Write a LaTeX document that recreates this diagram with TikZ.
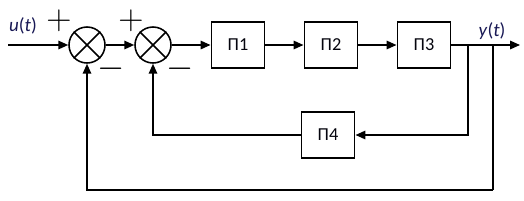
\documentclass[tikz,border=0pt]{standalone}
\usepackage{fontspec}
\setmainfont{Carlito}
\usepackage{xcolor}
\usetikzlibrary{arrows.meta, positioning}
\definecolor{labelblue}{RGB}{25,25,85}
\tikzstyle{wire} = [line width=1.1pt]
\tikzstyle{arrow} = [wire, -{Triangle[length=7pt, width=6pt]}]

\begin{document}
\begin{tikzpicture}[
        x=0.025cm, y=-0.025cm,
        node distance = 0.95cm,
        block/.style={draw, line width=1.4pt, minimum width=1.325cm, minimum height=1.15cm, font=\fontsize{13}{15}\selectfont, text=black!85!labelblue},
        summer/.style={draw, circle, line width=1.1pt, minimum size=0.9cm, inner sep=0pt},
        sign/.style={font=\fontsize{23}{23}\selectfont, inner sep=0pt},
        lbl/.style={font=\fontsize{13.5}{15}\selectfont, text=labelblue, inner sep=0pt},
    ]
        \useasboundingbox (0,0) rectangle (524,200);

        % summing junctions
        \node[summer] (sum1) at (87,45) {};
        \node[summer] (sum2) at (153,45) {};
        \foreach \s in {sum1, sum2} {
            \draw[wire] (\s.north east) -- (\s.south west);
            \draw[wire] (\s.north west) -- (\s.south east);
        }

        % forward path
        \node[block] (p1) at (238,45) {П1};
        \node[block, right=of p1] (p2) {П2};
        \node[block, right=of p2] (p3) {П3};
        \node[block] (p4) at (328,135) {П4};

        \coordinate (in) at (8,45);
        \coordinate (out) at (520,45);
        \coordinate (tap1) at (468,45);
        \coordinate (tap2) at (493,45);
        \coordinate (low) at (493,190);

        \draw[arrow] (in) -- (sum1.west);
        \draw[arrow] (sum1.east) -- (sum2.west);
        \draw[arrow] (sum2.east) -- (p1.west);
        \draw[arrow] (p1.east) -- (p2.west);
        \draw[arrow] (p2.east) -- (p3.west);
        \draw[arrow] (p3.east) -- (out);

        % feedback loops
        \draw[arrow] (tap1) |- (p4.east);
        \draw[arrow] (p4.west) -| (sum2.south);
        \draw[wire] (tap2) -- (low);
        \draw[arrow] (low) -| (sum1.south);

        % signs and signals
        \node[sign] (plus1) at (59,21) {$+$};
        \node[sign] (minus1) at (111,69) {$-$};
        \node[sign] (plus2) at (131,21) {$+$};
        \node[sign] (minus2) at (180,69) {$-$};
        \node[lbl] (u) at (23,26) {\textit{u}(\textit{t})};
        \node[lbl] (y) at (492,31) {\textit{y}(\textit{t})};
    \end{tikzpicture}
\end{document}
